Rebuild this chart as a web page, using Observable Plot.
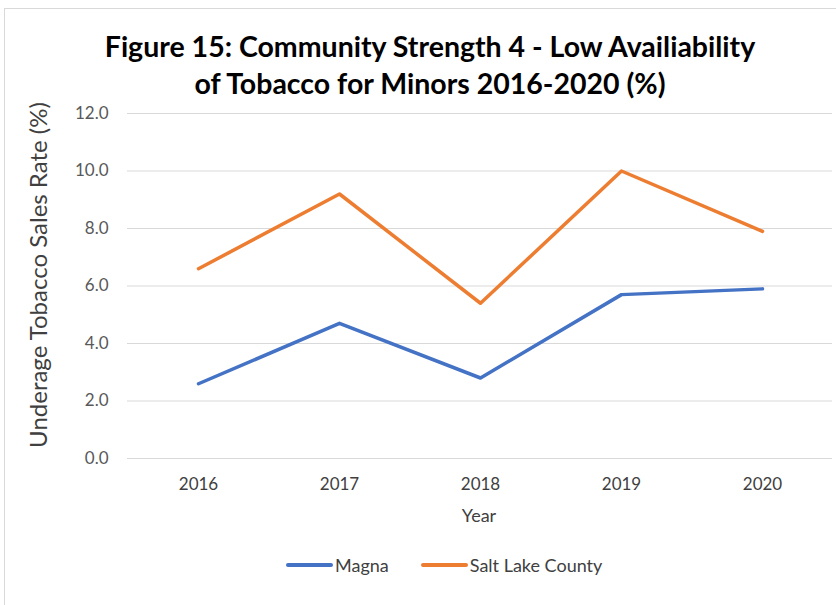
<!DOCTYPE html>
<html>
<head>
<meta charset="utf-8">
<script src="https://cdn.jsdelivr.net/npm/d3@7"></script>
<script src="https://cdn.jsdelivr.net/npm/@observablehq/plot@0.6"></script>
<style>
  html, body { margin: 0; padding: 0; background: #fff; }
  #wrap { position: relative; width: 836px; height: 605px; overflow: hidden; font-family: Lato, "Liberation Sans", sans-serif; }
  #frame { position: absolute; left: 4px; top: 8px; width: 900px; height: 700px; border: 1px solid #d9d9d9; box-sizing: border-box; }
  #title { position: absolute; left: 0; top: 28px; width: 860px; text-align: center; font-weight: bold; font-size: 28.5px; line-height: 37px; color: #000; }
  #ylab { position: absolute; left: 38px; top: 275px; transform: translate(-50%, -50%) rotate(-90deg); white-space: nowrap; font-size: 24px; line-height: 24px; color: #404040; }
  #xlab { position: absolute; left: 479px; top: 505px; transform: translateX(-50%); font-size: 18px; line-height: 20px; color: #404040; }
  #legend { position: absolute; top: 555px; left: 286px; font-size: 18px; line-height: 20px; color: #404040; display: flex; align-items: center; }
  .sw { display: inline-block; width: 47px; height: 4px; border-radius: 2px; margin-right: 2px; }
  .item { display: flex; align-items: center; margin-right: 32px; }
  svg { position: absolute; left: 0; top: 0; }
</style>
</head>
<body>
<div id="wrap">
  <div id="frame"></div>
  <div id="title">Figure 15: Community Strength 4 - Low Availiability<br>of Tobacco for Minors 2016-2020 (%)</div>
  <div id="ylab">Underage Tobacco Sales Rate (%)</div>
  <div id="xlab">Year</div>
  <div id="legend"></div>
  <div id="chart"></div>
</div>
<script>
const years = ["2016", "2017", "2018", "2019", "2020"];
const magna = [2.6, 4.7, 2.8, 5.7, 5.9];
const saltLake = [6.6, 9.2, 5.4, 10.0, 7.9];
const seriesNames = ["Magna", "Salt Lake County"];
const seriesColors = ["#4472C4", "#ED7D31"];
const yTicks = [0, 2, 4, 6, 8, 10, 12];

const rows = [];
years.forEach((yr, i) => {
  rows.push({year: yr, value: magna[i], series: seriesNames[0]});
  rows.push({year: yr, value: saltLake[i], series: seriesNames[1]});
});

const plot = Plot.plot({
  width: 836,
  height: 605,
  marginTop: 113,
  marginBottom: 147,
  marginLeft: 127,
  marginRight: 4,
  style: { fontFamily: "Lato, 'Liberation Sans', sans-serif", fontSize: "18px", background: "transparent", overflow: "visible" },
  x: { type: "point", domain: years, padding: 0.5 },
  y: { domain: [0, 12] },
  color: { domain: seriesNames, range: seriesColors },
  marks: [
    Plot.ruleY(yTicks, { stroke: "#d9d9d9", strokeWidth: 1 }),
    Plot.axisY({ ticks: yTicks, tickFormat: d => d.toFixed(1), tickSize: 0, tickPadding: 19, label: null, fill: "#595959", fontSize: 17 }),
    Plot.axisX({ tickSize: 0, tickPadding: 19, label: null, fill: "#404040", fontSize: 17 }),
    Plot.line(rows, { x: "year", y: "value", z: "series", stroke: "series", strokeWidth: 3.5, strokeLinecap: "round", strokeLinejoin: "round" })
  ]
});
document.getElementById("chart").appendChild(plot);

const legend = document.getElementById("legend");
seriesNames.forEach((name, i) => {
  const item = document.createElement("div");
  item.className = "item";
  const sw = document.createElement("span");
  sw.className = "sw";
  sw.style.background = seriesColors[i];
  item.appendChild(sw);
  item.appendChild(document.createTextNode(name));
  legend.appendChild(item);
});
</script>
</body>
</html>
